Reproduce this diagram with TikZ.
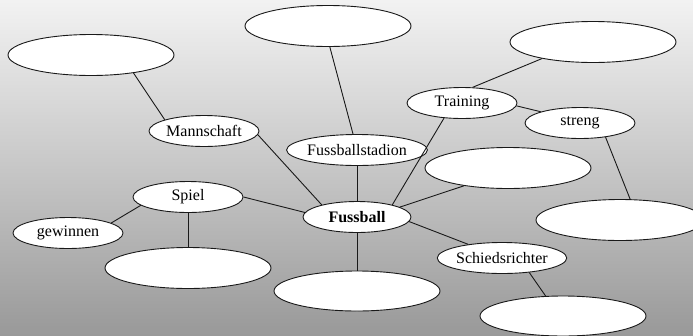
\documentclass[tikz,border=0pt]{standalone}
\usepackage{fontspec}
\setmainfont{Liberation Serif}
\usetikzlibrary{shapes.geometric}
\begin{document}
\begin{tikzpicture}[x=1pt,y=-1pt,
  bub/.style={ellipse,draw=black!90,line width=0.9pt,fill=white,inner sep=0pt,
    minimum width=110pt,minimum height=31pt,font=\fontsize{16}{18}\selectfont},
  big/.style={bub,minimum width=166pt,minimum height=41pt},
  link/.style={draw=black!90,line width=0.9pt}]
\clip (0,0) rectangle (693,335);
\shade[top color=black!5,bottom color=black!40,middle color=black!22] (0,0) rectangle (693,335);
% nodes
\node[big] (e1) at (91,55) {};
\node[big] (e2) at (328,26) {};
\node[big] (e3) at (593,42) {};
\node[bub] (ma) at (204,131) {Mannschaft};
\node[bub,minimum width=114pt] (fs) at (357,150) {Fussballstadion};
\node[bub] (tr) at (462,103) {Training};
\node[bub] (st) at (580,123) {streng};
\node[big] (e4) at (508,168) {};
\node[bub,minimum width=108pt,font=\fontsize{16}{18}\selectfont\bfseries] (fb) at (357,217) {Fussball};
\node[bub] (sp) at (188,197) {Spiel};
\node[bub] (ge) at (68,233) {gewinnen};
\node[big] (e5) at (188,268) {};
\node[big,minimum height=40pt] (e6) at (357,291) {};
\node[bub] (sr) at (502,258) {Schiedsrichter};
\node[big,minimum height=40pt] (e7) at (563,316) {};
\node[big,minimum width=168pt] (e8) at (620,220) {};
% connectors
\path[link] (e1.-23) -- (ma.164);
\path[link] (e2.-85) -- (fs.104);
\path[link] (e3.198) -- (tr.56);
\path[link] (ma.-4) -- (fb.161);
\path[link] (fs.south) -- (fb.north);
\path[link] (tr.220) -- (fb.19);
\path[link] (tr.-3) -- (st.164);
\path[link] (st.-29) -- (e8.64);
\path[link] (e4.202) -- (fb.13);
\path[link] (fb.-5) -- (sr.158);
\path[link] (fb.south) -- (e6.north);
\path[link] (sp.0) -- (fb.175);
\path[link] (sp.190) -- (ge.13);
\path[link] (sp.south) -- (e5.north);
\path[link] (sr.-28) -- (e7.131);
\end{tikzpicture}
\end{document}
